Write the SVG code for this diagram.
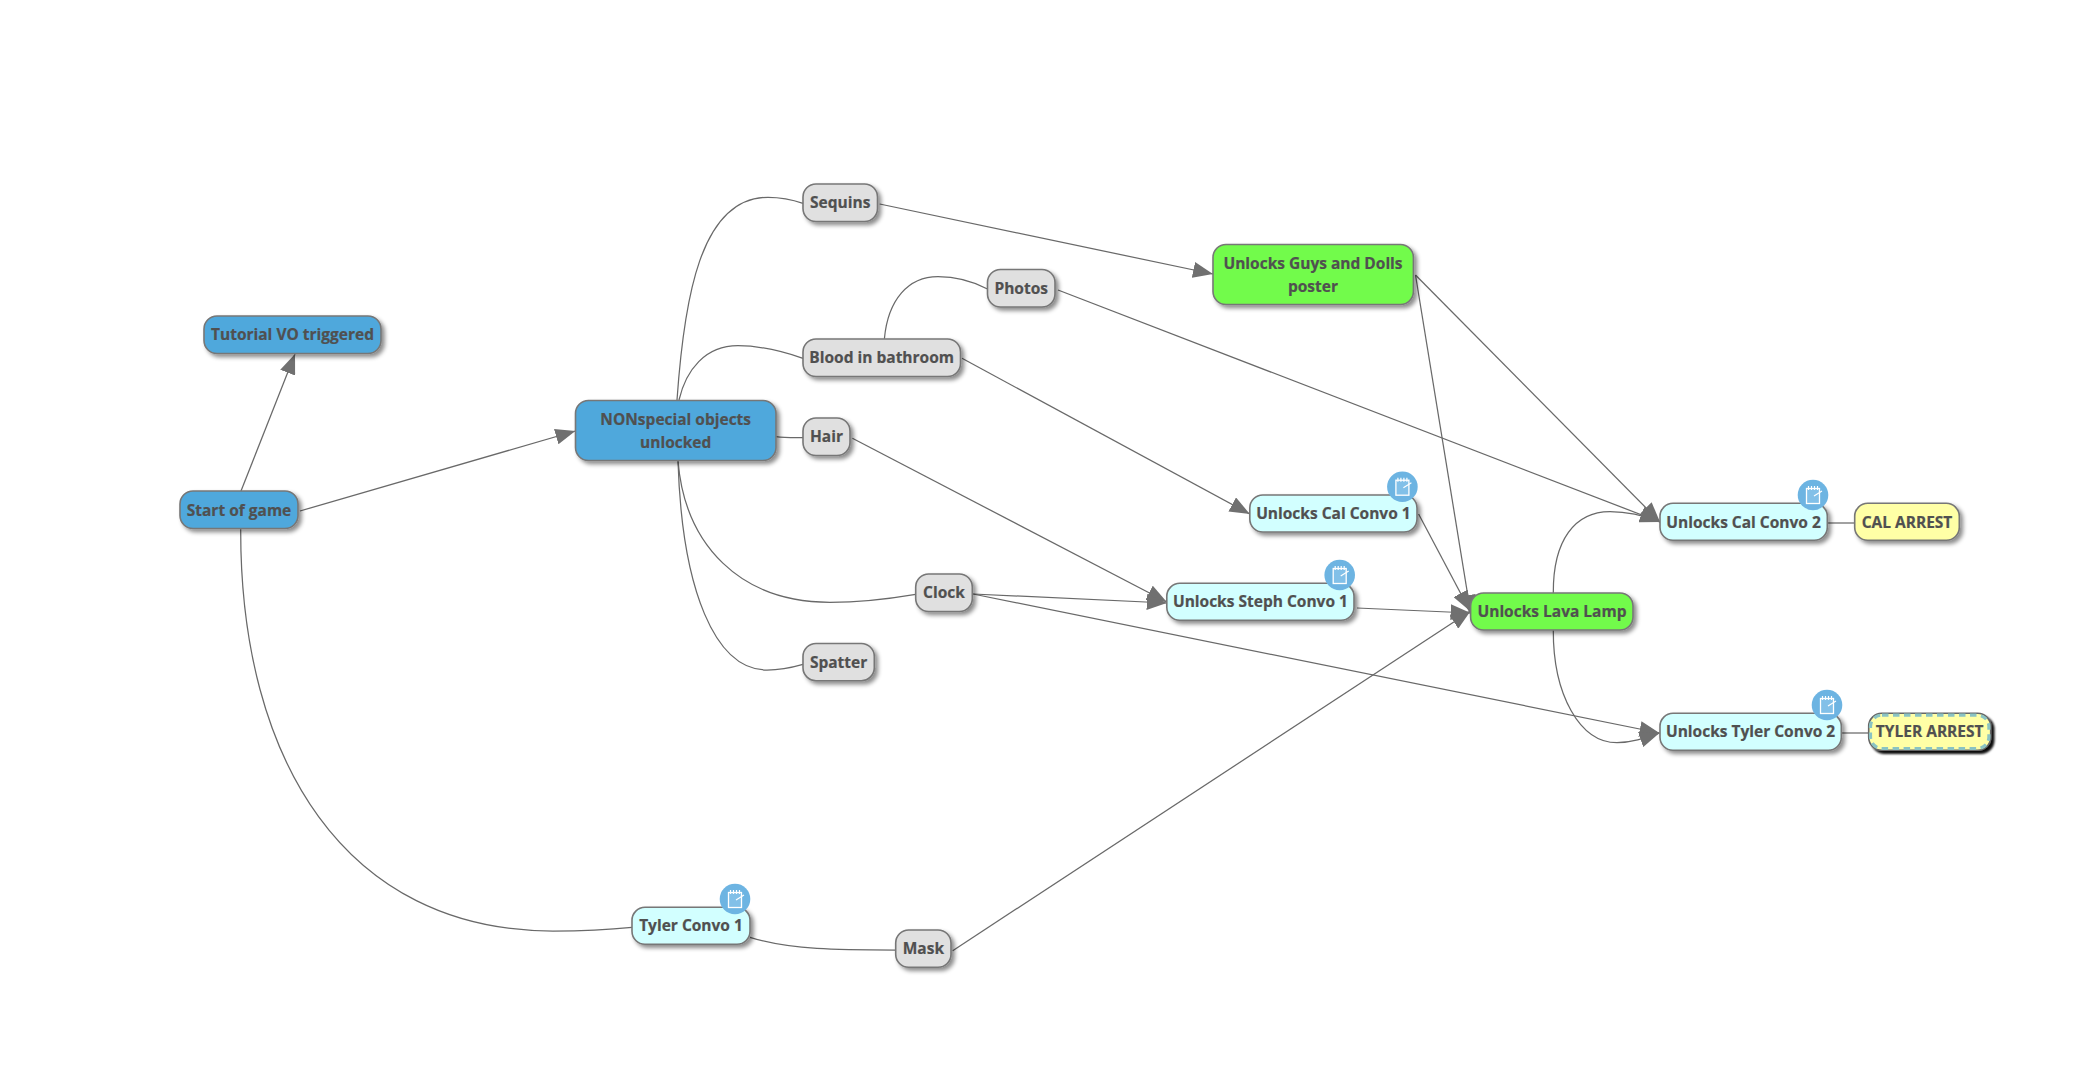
<svg xmlns="http://www.w3.org/2000/svg" xmlns:xlink="http://www.w3.org/1999/xlink" width="2094" height="1070" viewBox="0 0 2094 1070">
<style>
.n{stroke:#777;stroke-width:1.6;filter:url(#sh)}
.blue{fill:#4fa8dc}.grey{fill:#e0e0e0}.green{fill:#72fb4c}.cyan{fill:#d2ffff}.yellow{fill:#ffffa6}
text{font-family:"Open Sans","Noto Sans","DejaVu Sans",sans-serif;font-weight:700;font-size:15.5px;fill:#505050;stroke:#505050;stroke-width:.2;text-anchor:middle}
.c path{fill:none;stroke:#696969;stroke-width:1.25}
.a{marker-end:url(#arr)}
</style>
<defs>
<filter id="sh" x="-15%" y="-25%" width="130%" height="160%"><feDropShadow dx="3" dy="3" stdDeviation="2" flood-color="#000" flood-opacity=".45"/></filter>
<filter id="shb" x="-15%" y="-25%" width="130%" height="160%"><feDropShadow dx="3" dy="3" stdDeviation="1" flood-color="#000" flood-opacity=".95"/></filter>
<marker id="arr" viewBox="0 0 20 16" refX="20" refY="8" markerUnits="userSpaceOnUse" markerWidth="20" markerHeight="16" orient="auto"><path d="M0,0L20,8L0,16Z" fill="#707070"/></marker>
<g id="note">
<circle r="15.3" fill="#6db4e2"/>
<rect x="-6.5" y="-6.5" width="13" height="15" fill="#82c0e8" stroke="#fff" stroke-width="1.3"/>
<path d="M-4.5,-9V-5M-1.5,-9V-5M1.5,-9V-5M4.5,-9V-5M1,1L9,-4" fill="none" stroke="#fff" stroke-width="1.2"/>
</g>
</defs>
<rect width="2094" height="1070" fill="#fff"/>
<g id="connectors" class="c">
<path class="a" d="M241,491L295,354"/>
<path class="a" d="M300,511L575.4,431"/>
<path d="M240.7,529C240,760 345,931 553,931C580,931 606,930 632,927.3"/>
<path d="M677,400C684,300 700,197.3 768,197.3C782,197.3 792,199.5 803,203.3"/>
<path d="M679,400C686,370 705,345.7 738,345.7C760,345.7 782,351 803,358.3"/>
<path d="M884.4,338.7C888,300 908,276.7 938,276.7C958,276.7 972,281 987.5,289"/>
<path d="M776,436.7C785,438 795,437.7 803,437.7"/>
<path d="M678,461C685,545 740,602.3 830,602.3C858,602.3 888,599 915.7,594.3"/>
<path d="M678,461C682,590 715,670 767,670C780,670 790,668 803,664.3"/>
<path class="a" d="M879.7,204L1213,274"/>
<path class="a" d="M1058,290L1660,522"/>
<path class="a" d="M1415.5,275L1660,522"/>
<path class="a" d="M1415.5,275L1471,615"/>
<path class="a" d="M962,358.3L1249.8,514"/>
<path class="a" d="M852.4,438.3L1166.8,602"/>
<path class="a" d="M973,594L1166.8,603"/>
<path class="a" d="M973,594L1659.5,733"/>
<path class="a" d="M1418.6,514L1470,611"/>
<path class="a" d="M1357,608L1470.6,613"/>
<path class="a" d="M952.7,950.7L1470.6,611"/>
<path class="a" d="M1553.3,593C1553,540 1575,511.7 1610,511.7C1628,511.7 1645,516 1660,522"/>
<path class="a" d="M1553.3,630C1553,695 1580,742.7 1617,742.7C1632,742.7 1645,738 1659.5,733"/>
<path d="M750,937.3C790,950 840,950 895.7,950"/>
<path d="M1828,523H1855"/>
<path d="M1842,733H1869"/>
</g>
<g id="start"><rect class="n blue" x="180" y="491" width="118" height="37.5" rx="13"/><text x="239" y="515.5">Start of game</text></g>
<g id="tutorial"><rect class="n blue" x="204" y="316" width="177" height="37.5" rx="13"/><text x="292.5" y="340">Tutorial VO triggered</text></g>
<g id="nonspecial"><rect class="n blue" x="575.5" y="400.5" width="200.5" height="60" rx="13"/><text x="675.7" y="424.7">NONspecial objects</text><text x="675.7" y="447.5">unlocked</text></g>
<g id="sequins"><rect class="n grey" x="803" y="184" width="74.5" height="37.5" rx="13"/><text x="840.2" y="208">Sequins</text></g>
<g id="photos"><rect class="n grey" x="987.5" y="269.5" width="67.5" height="37.5" rx="13"/><text x="1021.2" y="293.5">Photos</text></g>
<g id="blood"><rect class="n grey" x="803" y="339" width="157.5" height="37.5" rx="13"/><text x="881.7" y="362.8">Blood in bathroom</text></g>
<g id="hair"><rect class="n grey" x="803" y="418" width="47" height="37.5" rx="13"/><text x="826.5" y="442.3">Hair</text></g>
<g id="clock"><rect class="n grey" x="915.7" y="574" width="56.6" height="37.5" rx="13"/><text x="944" y="597.8">Clock</text></g>
<g id="spatter"><rect class="n grey" x="803" y="643.5" width="71.3" height="37.2" rx="13"/><text x="838.6" y="667.5">Spatter</text></g>
<g id="mask"><rect class="n grey" x="895.7" y="930" width="55.3" height="37.3" rx="13"/><text x="923.4" y="953.5">Mask</text></g>
<g id="guys"><rect class="n green" x="1213" y="244.5" width="200.4" height="60" rx="13"/><text x="1313" y="269">Unlocks Guys and Dolls</text><text x="1313" y="291.7">poster</text></g>
<g id="lava"><rect class="n green" x="1470.6" y="593" width="162.4" height="37" rx="13"/><text x="1552" y="616.7">Unlocks Lava Lamp</text></g>
<g id="cal1"><rect class="n cyan" x="1249.8" y="495" width="167.2" height="37" rx="13"/><text x="1333.4" y="519">Unlocks Cal Convo 1</text><use xlink:href="#note" href="#note" x="1402.4" y="486.7"/></g>
<g id="steph1"><rect class="n cyan" x="1166.8" y="583.3" width="187.2" height="37" rx="13"/><text x="1260.4" y="607.3">Unlocks Steph Convo 1</text><use xlink:href="#note" href="#note" x="1339.7" y="575"/></g>
<g id="cal2"><rect class="n cyan" x="1660" y="503.3" width="167.3" height="37" rx="13"/><text x="1743.6" y="527.8">Unlocks Cal Convo 2</text><use xlink:href="#note" href="#note" x="1813" y="495"/></g>
<g id="tyler2"><rect class="n cyan" x="1660" y="713.3" width="181.3" height="37" rx="13"/><text x="1750.6" y="736.8">Unlocks Tyler Convo 2</text><use xlink:href="#note" href="#note" x="1827" y="705"/></g>
<g id="tyler1"><rect class="n cyan" x="632" y="907.3" width="118" height="37" rx="13"/><text x="691" y="930.7">Tyler Convo 1</text><use xlink:href="#note" href="#note" x="735" y="899"/></g>
<g id="calarrest"><rect class="n yellow" x="1854.7" y="503.3" width="104.6" height="37" rx="13"/><text x="1907" y="527.8">CAL ARREST</text></g>
<g id="tylerarrest"><rect class="yellow" x="1868.7" y="713.3" width="122" height="37" rx="13" stroke="#666" stroke-width="1.6" style="filter:url(#shb)"/><rect x="1870.5" y="715.1" width="118.4" height="33.4" rx="11.5" fill="none" stroke="#8ac3c3" stroke-width="3.2" stroke-dasharray="6.5 4.5"/><text x="1929.7" y="736.8">TYLER ARREST</text></g>
</svg>
